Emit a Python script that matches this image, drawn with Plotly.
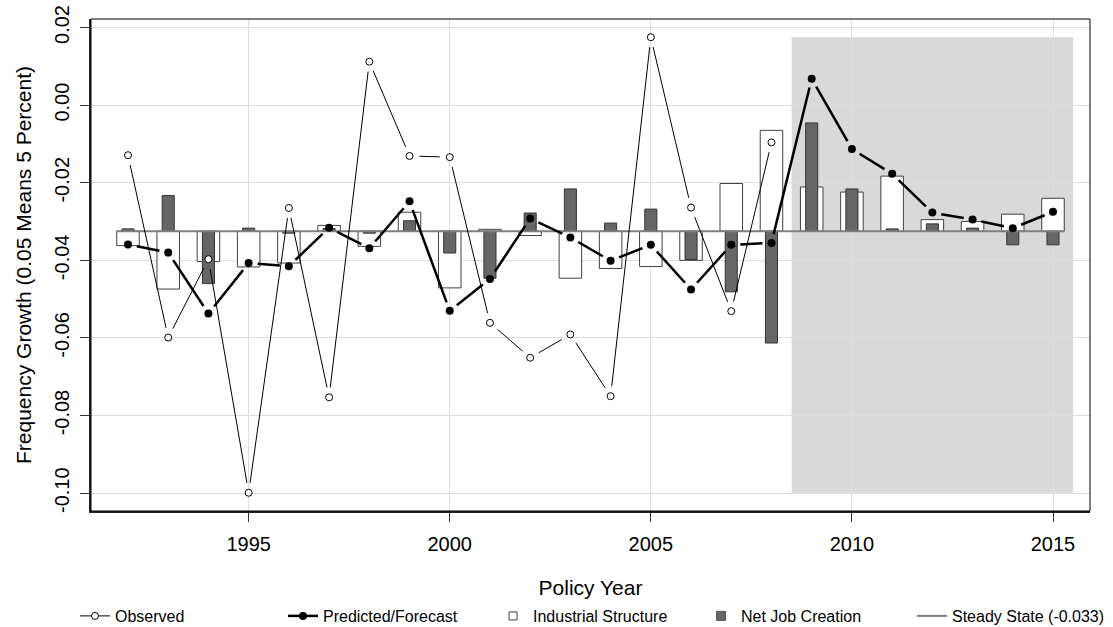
import math
import plotly.graph_objects as go

# ---------------- data ----------------
years = list(range(1992, 2016))
obs_years = list(range(1992, 2009))
observed = [-0.0129, -0.0599, -0.0397, -0.0999, -0.0265, -0.0753, 0.0112, -0.0131,
            -0.0134, -0.0561, -0.0651, -0.0591, -0.0750, 0.0175, -0.0264, -0.0531,
            -0.0096]
predicted = [-0.0359, -0.0380, -0.0537, -0.0407, -0.0415, -0.0316, -0.0369, -0.0248,
             -0.0530, -0.0448, -0.0292, -0.0341, -0.0401, -0.0360, -0.0475, -0.0360,
             -0.0355, 0.0068, -0.0113, -0.0177, -0.0277, -0.0295, -0.0317, -0.0275]
industrial = [-0.0362, -0.0474, -0.0403, -0.0417, -0.0407, -0.0310, -0.0364, -0.0276,
              -0.0471, -0.0320, -0.0336, -0.0446, -0.0421, -0.0416, -0.0400, -0.0202,
              -0.0065, -0.0211, -0.0224, -0.0183, -0.0295, -0.0300, -0.0281, -0.0240]
netjob = [-0.0319, -0.0233, -0.0460, -0.0317, -0.0330, -0.0318, -0.0330, -0.0298,
          -0.0381, -0.0446, -0.0278, -0.0216, -0.0304, -0.0268, -0.0398, -0.0481,
          -0.0613, -0.0046, -0.0216, -0.0319, -0.0306, -0.0317, -0.0360, -0.0360]
steady = -0.0325
forecast_start, forecast_end = 2008.5, 2015.5
x_ticks = [1995, 2000, 2005, 2010, 2015]
y_ticks = [-0.10, -0.08, -0.06, -0.04, -0.02, 0.00, 0.02]
y_ticktext = ["-0.10", "-0.08", "-0.06", "-0.04", "-0.02", "0.00", "0.02"]
legend_names = ["Observed", "Predicted/Forecast", "Industrial Structure",
                "Net Job Creation", "Steady State (-0.033)"]

# ---------------- layout geometry ----------------
W, H = 1113, 627
ML, MR, MT, MB = 91, 23, 19, 116
xspan = years[-1] - years[0]
xr = [years[0] - 0.04 * xspan, years[-1] + 0.04 * xspan]
ymin, ymax = min(observed), max(observed)
yspan = ymax - ymin
yr = [ymin - 0.04 * yspan, ymax + 0.04 * yspan]
PXX = (W - ML - MR) / (xr[1] - xr[0])
PXY = (H - MT - MB) / (yr[1] - yr[0])
legend_left_px = [75, 283, 493, 701, 912]


def gapped(xs, ys, gap):
    ox, oy = [], []
    for i in range(len(xs) - 1):
        dx = (xs[i + 1] - xs[i]) * PXX
        dy = (ys[i + 1] - ys[i]) * PXY
        d = math.hypot(dx, dy)
        if d <= 2 * gap:
            continue
        f = gap / d
        ox += [xs[i] + (xs[i + 1] - xs[i]) * f, xs[i + 1] - (xs[i + 1] - xs[i]) * f, None]
        oy += [ys[i] + (ys[i + 1] - ys[i]) * f, ys[i + 1] - (ys[i + 1] - ys[i]) * f, None]
    return ox, oy


FONT = "Liberation Sans, Arial, Helvetica, sans-serif"
fig = go.Figure()

# bars
fig.add_trace(go.Bar(x=years, y=[v - steady for v in industrial], base=steady,
                     width=0.56, marker=dict(color="white", line=dict(color="#404040", width=1)),
                     showlegend=False, hoverinfo="skip"))
fig.add_trace(go.Bar(x=years, y=[v - steady for v in netjob], base=steady,
                     width=0.3, marker=dict(color="#666666", line=dict(color="#333333", width=1)),
                     showlegend=False, hoverinfo="skip"))

# steady state line
fig.add_trace(go.Scatter(x=[years[0] - 0.28, years[-1] + 0.28], y=[steady, steady],
                         mode="lines", line=dict(color="#7f7f7f", width=2),
                         showlegend=False, hoverinfo="skip"))

# observed
gx, gy = gapped(obs_years, observed, 10)
fig.add_trace(go.Scatter(x=gx, y=gy, mode="lines", line=dict(color="black", width=1),
                         showlegend=False, hoverinfo="skip"))
fig.add_trace(go.Scatter(x=obs_years, y=observed, mode="markers",
                         marker=dict(symbol="circle", size=7, color="white",
                                     line=dict(color="black", width=1)),
                         showlegend=False))

# predicted
gx, gy = gapped(years, predicted, 9)
fig.add_trace(go.Scatter(x=gx, y=gy, mode="lines", line=dict(color="black", width=2.5),
                         showlegend=False, hoverinfo="skip"))
fig.add_trace(go.Scatter(x=years, y=predicted, mode="markers",
                         marker=dict(symbol="circle", size=8, color="black"),
                         showlegend=False))

# legend entries (each in its own legend box)
fig.add_trace(go.Scatter(x=[None], y=[None], mode="lines+markers", name=legend_names[0],
                         legend="legend",
                         line=dict(color="black", width=1),
                         marker=dict(size=7, color="white", line=dict(color="black", width=1))))
fig.add_trace(go.Scatter(x=[None], y=[None], mode="lines+markers", name=legend_names[1],
                         legend="legend2",
                         line=dict(color="black", width=2.5), marker=dict(size=8, color="black")))
fig.add_trace(go.Scatter(x=[None], y=[None], mode="markers", name=legend_names[2],
                         legend="legend3",
                         marker=dict(symbol="square", size=8, color="white",
                                     line=dict(color="#404040", width=1))))
fig.add_trace(go.Scatter(x=[None], y=[None], mode="markers", name=legend_names[3],
                         legend="legend4",
                         marker=dict(symbol="square", size=9, color="#666666",
                                     line=dict(color="#555555", width=1))))
fig.add_trace(go.Scatter(x=[None], y=[None], mode="lines", name=legend_names[4],
                         legend="legend5",
                         line=dict(color="#7f7f7f", width=2)))

# forecast shading
fig.add_shape(type="rect", xref="x", yref="y", x0=forecast_start, x1=forecast_end,
              y0=ymin, y1=ymax, fillcolor="#d9d9d9", line=dict(width=0), layer="below")
# box (top/right)
fig.add_shape(type="rect", xref="paper", yref="paper", x0=0, x1=1, y0=0, y1=1,
              line=dict(color="black", width=1), layer="above")


def leg(px):
    return dict(orientation="h", xref="container", x=px / W, xanchor="left",
                yref="container", y=(H - 616) / H, yanchor="middle",
                font=dict(size=16, family=FONT), bgcolor="rgba(0,0,0,0)",
                itemsizing="trace")


fig.update_layout(
    width=W, height=H,
    margin=dict(l=ML, r=MR, t=MT, b=MB, autoexpand=False),
    paper_bgcolor="white", plot_bgcolor="white",
    font=dict(family=FONT, color="black"),
    barmode="overlay",
    showlegend=True,
    legend=leg(legend_left_px[0]),
    legend2=leg(legend_left_px[1]),
    legend3=leg(legend_left_px[2]),
    legend4=leg(legend_left_px[3]),
    legend5=leg(legend_left_px[4]),
    xaxis=dict(range=xr, tickvals=x_ticks, ticktext=[str(t) for t in x_ticks],
               showgrid=True, gridcolor="#dedede", gridwidth=1.2,
               zeroline=False, showline=True, linecolor="#222222", linewidth=2,
               ticks="outside", ticklen=9, tickcolor="#333333", tickwidth=1,
               tickfont=dict(size=20), ticklabelstandoff=5, automargin=False,
               title=dict(text="Policy Year", font=dict(size=21), standoff=40)),
    yaxis=dict(range=yr, tickvals=y_ticks, ticktext=y_ticktext, tickangle=-90,
               showgrid=True, gridcolor="#dedede", gridwidth=1.2,
               zeroline=False, showline=True, linecolor="#222222", linewidth=2,
               ticks="outside", ticklen=9, tickcolor="#333333", tickwidth=1,
               tickfont=dict(size=20), ticklabelstandoff=3, automargin=False,
               title=dict(text="Frequency Growth (0.05 Means 5 Percent)",
                          font=dict(size=21), standoff=14)),
)

fig.write_html("out.html", config={"displayModeBar": False},
               post_script="document.body.style.margin='0';")
